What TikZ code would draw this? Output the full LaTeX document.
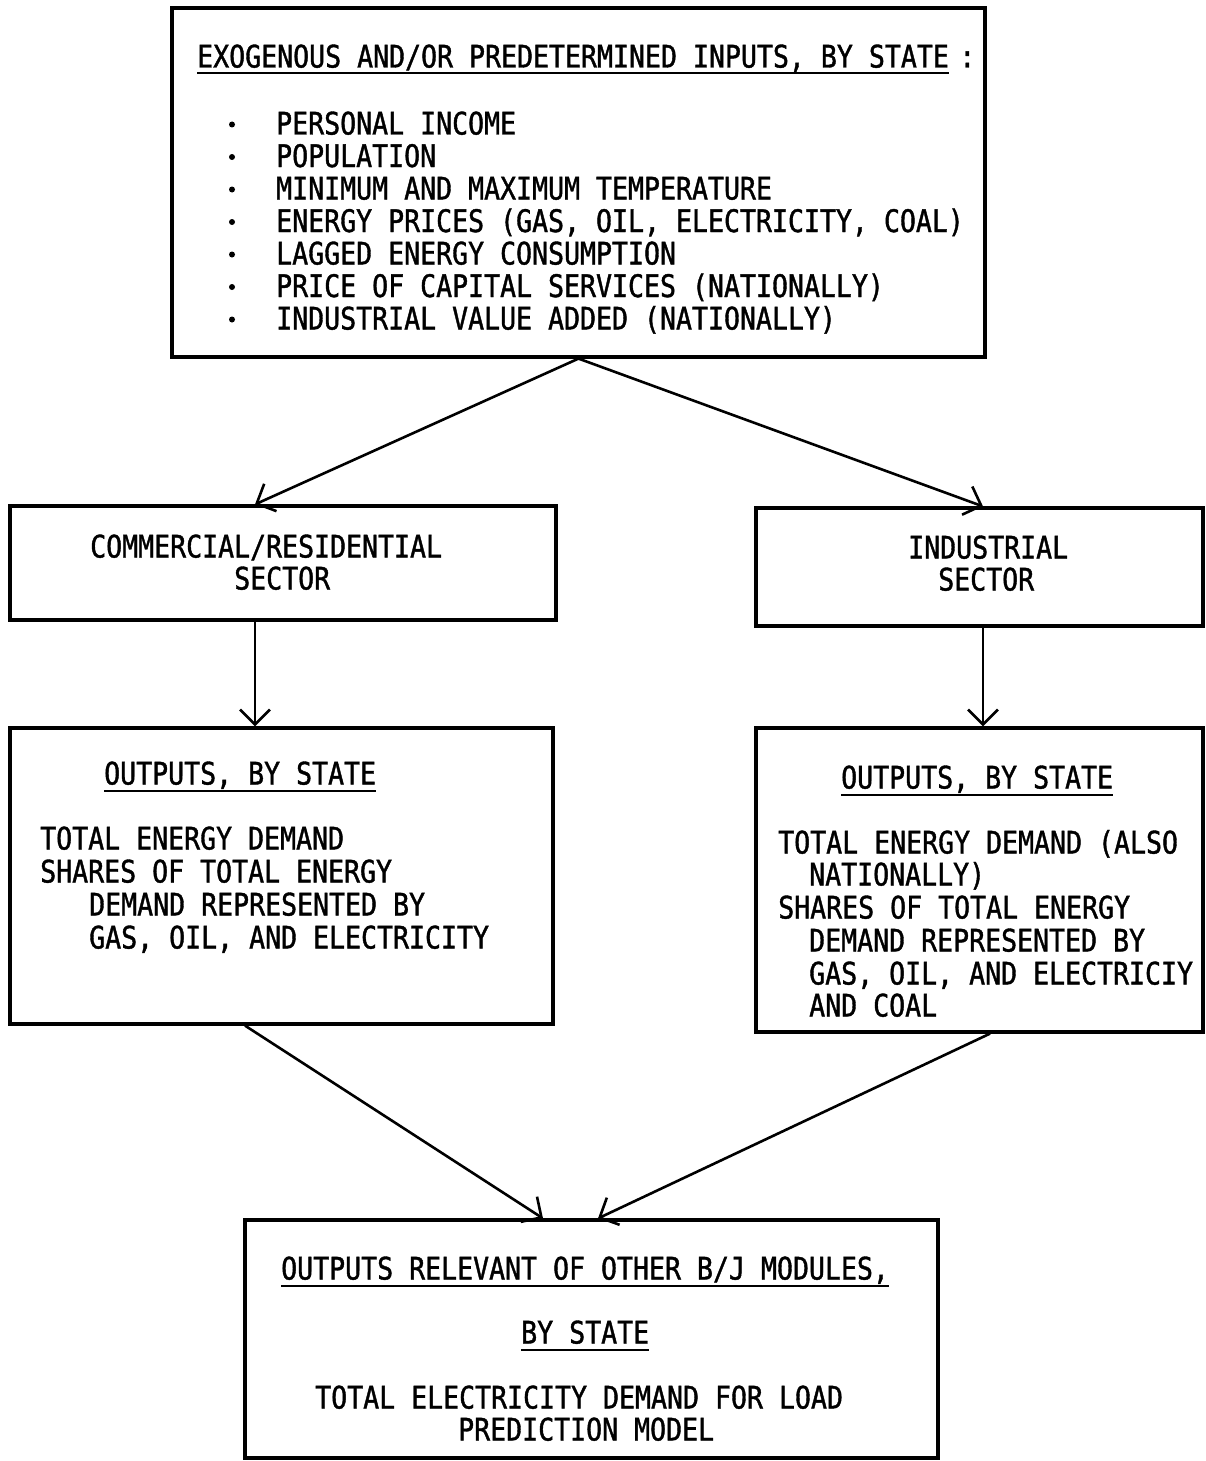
\documentclass[tikz,border=0pt]{standalone}
\usepackage{fontspec}
\setmainfont[FakeStretch=0.857,FakeBold=1.2]{DejaVu Sans Mono}
\usepackage{tikz}
\usetikzlibrary{arrows.meta,positioning,calc}

\begin{document}
\begin{tikzpicture}[
			x = 1pt, y = -1pt,
			every node/.style = {font = \fontsize{31}{32}\selectfont},
			box/.style = {draw, line width = 3.2pt, inner sep = 0pt},
			txt/.style = {anchor = base west, inner sep = 0pt},
			uline/.style = {line width = 2pt},
			flow/.style = {line width = 2.6pt, -{Straight Barb[length = 15pt, width = 30pt, line width = 2.6pt]}}
			]

			\useasboundingbox (0,0) rectangle (1206,1461);

			% boxes
			\node[box, minimum width = 813pt, minimum height = 349pt] (inputs) at (578.5,182.5) {};
			\node[box, minimum width = 546pt, minimum height = 114pt] (comres) at (283,563) {};
			\node[box, minimum width = 447pt, minimum height = 118pt] (indus) at (979.5,567) {};
			\node[box, minimum width = 543pt, minimum height = 296pt] (comout) at (281.5,876) {};
			\node[box, minimum width = 447pt, minimum height = 304pt] (indout) at (979.5,880) {};
			\node[box, minimum width = 693pt, minimum height = 238pt] (result) at (591.5,1339) {};

			% inputs
			\node[txt] (inhead) at (197,67.5) {EXOGENOUS AND/OR PREDETERMINED INPUTS, BY STATE};
			\node[txt] (incolon) at ([xshift = 10pt]inhead.base east) {:};
			\draw[uline] ([yshift = -6pt]inhead.base west) -- ([yshift = -6pt]inhead.base east);
			\foreach \t [count = \i] in {PERSONAL INCOME, POPULATION, MINIMUM AND MAXIMUM TEMPERATURE,
				{ENERGY PRICES (GAS, OIL, ELECTRICITY, COAL)}, LAGGED ENERGY CONSUMPTION,
				PRICE OF CAPITAL SERVICES (NATIONALLY), INDUSTRIAL VALUE ADDED (NATIONALLY)}{
				\node[txt] (in\i) at (276,{134.5+32.5*(\i-1)}) {\t};
				\fill (232,{124.5+32.5*(\i-1)}) circle (3pt);
			}

			% sectors
			\node[txt] (cr1) at (90,557.5) {COMMERCIAL/RESIDENTIAL};
			\node[txt] (cr2) at (234,589.5) {SECTOR};
			\node[txt] (is1) at (908,558.5) {INDUSTRIAL};
			\node[txt] (is2) at (938,590.5) {SECTOR};

			% outputs
			\node[txt] (cohead) at (104,784.5) {OUTPUTS, BY STATE};
			\draw[uline] ([yshift = -6pt]cohead.base west) -- ([yshift = -6pt]cohead.base east);
			\foreach \x/\y/\t [count = \i] in {40/849.5/TOTAL ENERGY DEMAND, 40/882.5/SHARES OF TOTAL ENERGY,
				89/915.5/DEMAND REPRESENTED BY, 89/948.5/{GAS, OIL, AND ELECTRICITY}}{
				\node[txt] (co\i) at (\x,\y) {\t};
			}

			\node[txt] (iohead) at (841,788.5) {OUTPUTS, BY STATE};
			\draw[uline] ([yshift = -6pt]iohead.base west) -- ([yshift = -6pt]iohead.base east);
			\foreach \x/\y/\t [count = \i] in {778/853.5/TOTAL ENERGY DEMAND (ALSO, 809/885.5/NATIONALLY),
				778/918.5/SHARES OF TOTAL ENERGY, 809/951.5/DEMAND REPRESENTED BY,
				809/984.5/{GAS, OIL, AND ELECTRICIY}, 809/1016.5/AND COAL}{
				\node[txt] (io\i) at (\x,\y) {\t};
			}

			% result
			\node[txt] (rehead) at (281,1279.5) {OUTPUTS RELEVANT OF OTHER B/J MODULES,};
			\draw[uline] ([yshift = -6pt]rehead.base west) -- ([yshift = -6pt]rehead.base east);
			\node[txt] (restate) at (521,1343.5) {BY STATE};
			\draw[uline] ([yshift = -6pt]restate.base west) -- ([yshift = -6pt]restate.base east);
			\node[txt] (re1) at (315,1408.5) {TOTAL ELECTRICITY DEMAND FOR LOAD};
			\node[txt] (re2) at (458,1440.5) {PREDICTION MODEL};

			% connectors
			\draw[flow] (inputs.south) -- ([xshift = -28pt]comres.north);
			\draw[flow] (inputs.south) -- ([xshift = 3.5pt]indus.north);
			\draw[flow] ([xshift = -28pt]comres.south) -- ([xshift = -26.5pt]comout.north);
			\draw[flow] ([xshift = 3.5pt]indus.south) -- ([xshift = 3.5pt]indout.north);
			\draw[flow] ([xshift = -36.5pt]comout.south) -- ([xshift = -48.5pt]result.north);
			\draw[flow] ([xshift = 10.5pt]indout.south) -- ([xshift = 6.5pt]result.north);

		\end{tikzpicture}
\end{document}
